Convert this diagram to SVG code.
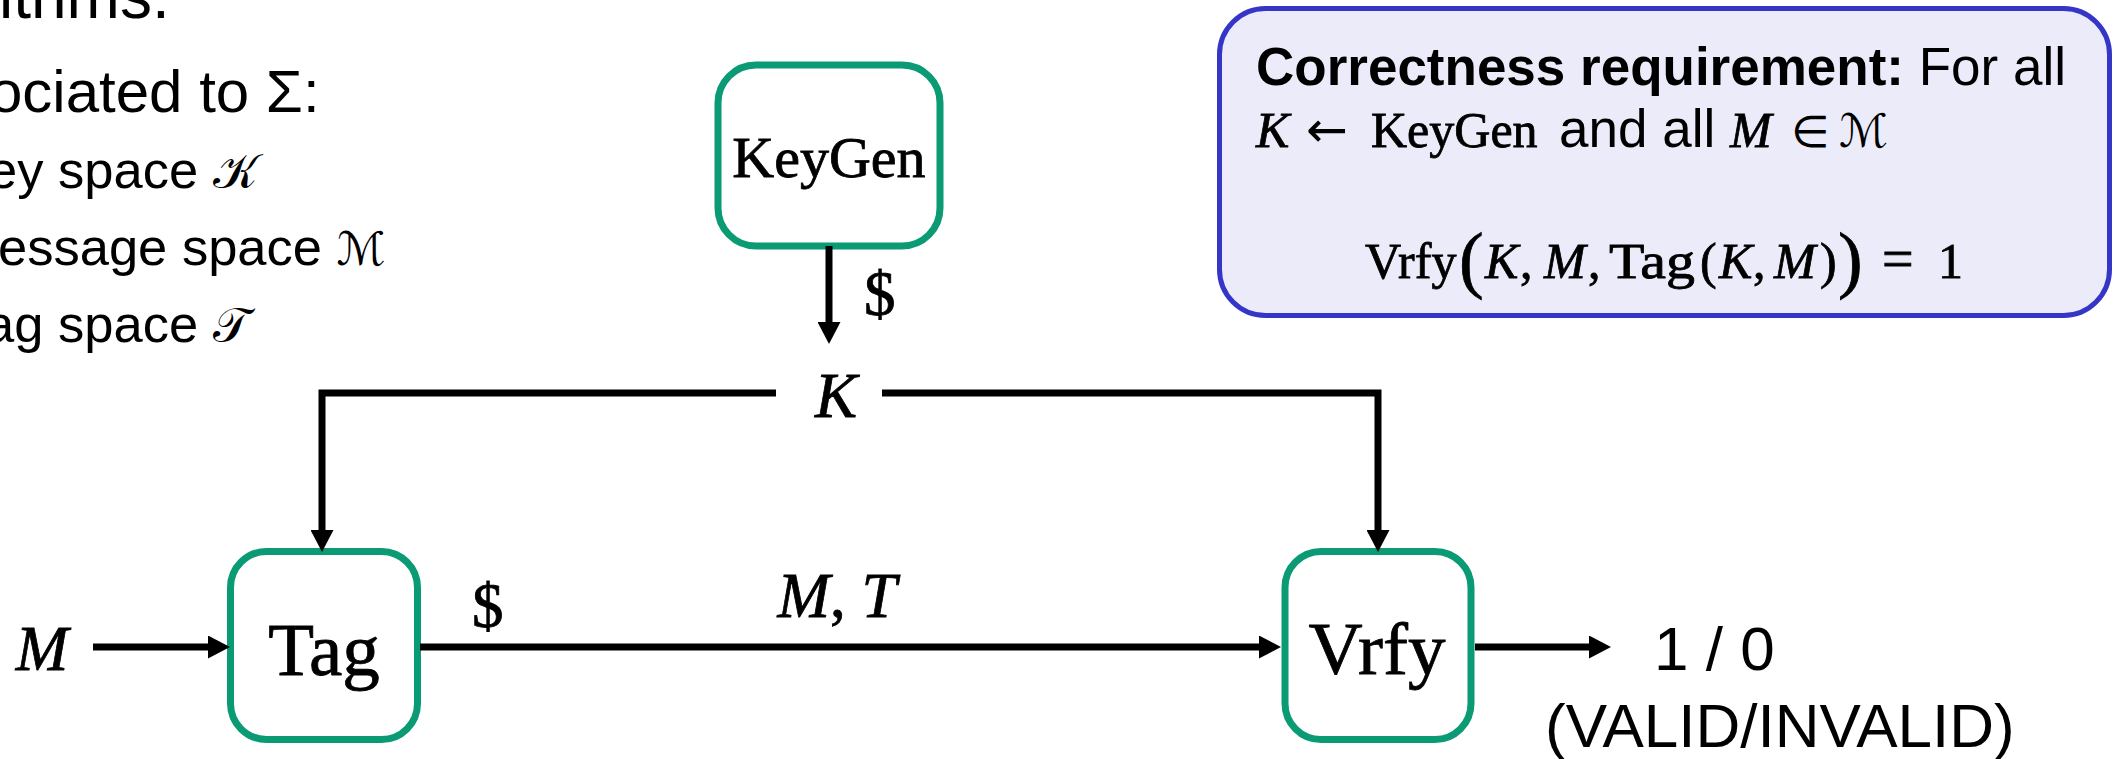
<svg xmlns="http://www.w3.org/2000/svg" width="2123" height="759" viewBox="0 0 2123 759">
  <defs>
    <style>
      .sans { font-family: "Liberation Sans", Arial, sans-serif; fill: #000; }
      .serif { font-family: "Liberation Serif", "Times New Roman", serif; fill: #000; stroke: #000; stroke-width: 0.8; }
      .it { font-style: italic; }
      .script { font-family: "DejaVu Sans", "Noto Sans", serif; font-style: normal; fill: #000; }
      .sym { font-family: "DejaVu Sans", "Liberation Sans", sans-serif; fill: #000; }
      .algo { fill: #ffffff; stroke: #0a9a74; stroke-width: 7; }
      .note { fill: #ecebf9; stroke: #3535c8; stroke-width: 5; }
      .wire { fill: none; stroke: #000; stroke-width: 7; stroke-linejoin: miter; stroke-linecap: butt; }
    </style>
    <marker id="head" markerUnits="userSpaceOnUse" markerWidth="22" markerHeight="23" refX="7" refY="11.5" orient="auto">
      <path d="M0,0 L22,11.5 L0,23 Z" fill="#000"/>
    </marker>
  </defs>

  <rect width="2123" height="759" fill="#ffffff"/>

  <!-- slide text on the left, clipped by the frame -->
  <g id="slide-text">
    <text class="sans" x="-1" y="18" font-size="64">ithms.</text>
    <text class="sans" x="-11" y="112" font-size="60">ociated to Σ:</text>
    <text class="sans" x="-12" y="188" font-size="52.5">ey space <tspan class="script" font-size="48">𝒦</tspan></text>
    <text class="sans" x="-2" y="265" font-size="52.5">essage space <tspan class="script" font-size="46">ℳ</tspan></text>
    <text class="sans" x="-15" y="342" font-size="52.5">ag space <tspan class="script" font-size="48">𝒯</tspan></text>
  </g>

  <!-- correctness requirement note -->
  <g id="correctness">
    <rect class="note" x="1219.5" y="8.5" width="890" height="307" rx="46" ry="46"/>
    <text class="sans" x="1256" y="85" font-size="53"><tspan font-weight="bold">Correctness requirement:</tspan> For all</text>
    <text y="147" font-size="50">
      <tspan class="serif it" x="1256">K</tspan>
      <tspan class="sym" x="1306">←</tspan>
      <tspan class="serif" x="1371">KeyGen</tspan>
      <tspan class="sans" x="1559" font-size="53">and all</tspan>
      <tspan class="serif it" x="1730">M</tspan>
      <tspan class="sym" x="1791" font-size="44">∈</tspan>
      <tspan class="script" x="1839" font-size="46">ℳ</tspan>
    </text>
    <text y="278" font-size="50">
      <tspan class="serif" x="1365">Vrfy</tspan>
      <tspan class="serif" x="1459" y="284" font-size="74">(</tspan>
      <tspan class="serif it" x="1485" y="278">K</tspan>
      <tspan class="serif" x="1520">,</tspan>
      <tspan class="serif it" x="1544">M</tspan>
      <tspan class="serif" x="1588">,</tspan>
      <tspan class="serif" x="1609" textLength="86" lengthAdjust="spacingAndGlyphs">Tag</tspan>
      <tspan class="serif" x="1700">(</tspan>
      <tspan class="serif it" x="1719">K</tspan>
      <tspan class="serif" x="1753">,</tspan>
      <tspan class="serif it" x="1774">M</tspan>
      <tspan class="serif" x="1820">)</tspan>
      <tspan class="serif" x="1838" y="284" font-size="74">)</tspan>
      <tspan class="serif" x="1882" y="278" font-size="56">=</tspan>
      <tspan class="serif" x="1938">1</tspan>
    </text>
  </g>

  <!-- algorithms -->
  <g id="keygen">
    <rect class="algo" x="718" y="65" width="222" height="181" rx="38" ry="38"/>
    <text class="serif" x="829" y="177" font-size="58" text-anchor="middle">KeyGen</text>
  </g>
  <g id="tag">
    <rect class="algo" x="230.5" y="551.5" width="187" height="188" rx="36" ry="36"/>
    <text class="serif" x="324" y="675" font-size="75" text-anchor="middle">Tag</text>
  </g>
  <g id="vrfy">
    <rect class="algo" x="1285" y="551.5" width="186" height="188" rx="36" ry="36"/>
    <text class="serif" x="1377" y="674" font-size="75" text-anchor="middle">Vrfy</text>
  </g>

  <!-- connectors and their labels -->
  <g id="connectors">
    <path class="wire" d="M829,246 V329" marker-end="url(#head)"/>
    <path class="wire" d="M776,393 H322 V537" marker-end="url(#head)"/>
    <path class="wire" d="M882,393 H1378 V537" marker-end="url(#head)"/>
    <path class="wire" d="M93,647 H215" marker-end="url(#head)"/>
    <path class="wire" d="M420,647 H1266" marker-end="url(#head)"/>
    <path class="wire" d="M1475,647 H1596" marker-end="url(#head)"/>

    <text class="serif" x="864" y="315" font-size="63">$</text>
    <text class="serif it" x="836" y="417" font-size="63" text-anchor="middle">K</text>
    <text class="serif it" x="42" y="670" font-size="63" text-anchor="middle">M</text>
    <text class="serif" x="472" y="627" font-size="63">$</text>
    <text class="serif" x="837" y="617" font-size="63" text-anchor="middle"><tspan class="it">M</tspan>, <tspan class="it">T</tspan></text>
    <text class="sans" x="1654" y="670" font-size="62">1 / 0</text>
    <text class="sans" x="1545" y="747" font-size="62">(VALID/INVALID)</text>
  </g>
</svg>
